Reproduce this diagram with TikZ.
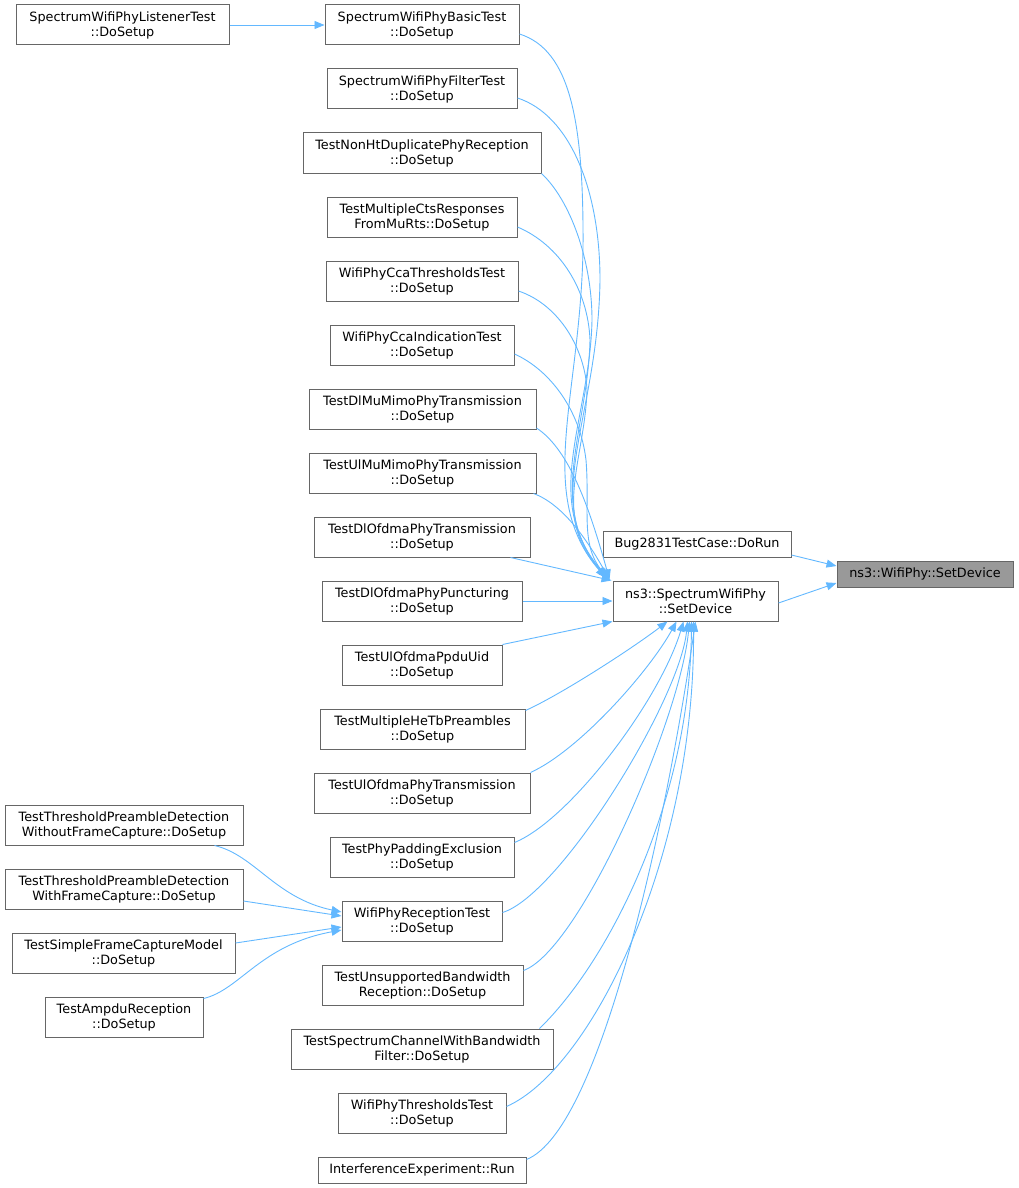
\documentclass[tikz,border=0pt]{standalone}
\usepackage{fontspec}
\setmainfont{DejaVu Sans}
\usetikzlibrary{arrows.meta}
\definecolor{edgeblue}{HTML}{63B8FF}
\definecolor{boxborder}{HTML}{666666}
\definecolor{mainfill}{HTML}{999999}
\begin{document}
\begin{tikzpicture}[x=1pt,y=-1pt,
  box/.style={draw=boxborder,line width=1pt,fill=white,inner sep=0pt,align=center,
    font=\fontsize{12.8}{15}\selectfont,minimum height=40pt},
  onebox/.style={box,minimum height=26pt},
  edge/.style={draw=edgeblue,line width=0.9pt,-{Triangle[length=10pt,width=8pt]}}]
\useasboundingbox (0,0) rectangle (1019,1188);
% nodes
\node[box,minimum width=213pt] (listener) at (122.5,25) {SpectrumWifiPhyListenerTest\\::DoSetup};
\node[box,minimum width=194pt] (basic) at (422,25) {SpectrumWifiPhyBasicTest\\::DoSetup};
\node[box,minimum width=190pt] (filter) at (422,89) {SpectrumWifiPhyFilterTest\\::DoSetup};
\node[box,minimum width=238pt] (nonht) at (422,153) {TestNonHtDuplicatePhyReception\\::DoSetup};
\node[box,minimum width=190pt] (multicts) at (422,217) {TestMultipleCtsResponses\\FromMuRts::DoSetup};
\node[box,minimum width=192pt] (ccathr) at (422,281) {WifiPhyCcaThresholdsTest\\::DoSetup};
\node[box,minimum width=184pt] (ccaind) at (422,345) {WifiPhyCcaIndicationTest\\::DoSetup};
\node[box,minimum width=227pt] (dlmumimo) at (422.5,409) {TestDlMuMimoPhyTransmission\\::DoSetup};
\node[box,minimum width=227pt] (ulmumimo) at (422.5,473) {TestUlMuMimoPhyTransmission\\::DoSetup};
\node[box,minimum width=216pt] (dlofdmatx) at (422,537) {TestDlOfdmaPhyTransmission\\::DoSetup};
\node[box,minimum width=200pt] (punct) at (422,601) {TestDlOfdmaPhyPuncturing\\::DoSetup};
\node[box,minimum width=160pt] (ppdu) at (422,665) {TestUlOfdmaPpduUid\\::DoSetup};
\node[box,minimum width=205pt] (hetb) at (422.5,729) {TestMultipleHeTbPreambles\\::DoSetup};
\node[box,minimum width=216pt] (ulofdmatx) at (422,793) {TestUlOfdmaPhyTransmission\\::DoSetup};
\node[box,minimum width=184pt] (padding) at (422,857) {TestPhyPaddingExclusion\\::DoSetup};
\node[box,minimum width=160pt] (reception) at (422,921) {WifiPhyReceptionTest\\::DoSetup};
\node[box,minimum width=201pt] (unsupported) at (422.5,985) {TestUnsupportedBandwidth\\Reception::DoSetup};
\node[box,minimum width=262pt] (specchan) at (422,1049) {TestSpectrumChannelWithBandwidth\\Filter::DoSetup};
\node[box,minimum width=168pt] (thresholds) at (422,1113) {WifiPhyThresholdsTest\\::DoSetup};
\node[onebox,minimum width=208pt] (interference) at (422,1170) {InterferenceExperiment::Run};
\node[onebox,minimum width=188pt] (bug) at (697,544) {Bug2831TestCase::DoRun};
\node[box,minimum width=165pt] (swp) at (695.5,601) {ns3::SpectrumWifiPhy\\::SetDevice};
\node[onebox,minimum width=176pt,fill=mainfill] (wifiphy) at (925,574) {ns3::WifiPhy::SetDevice};
\node[box,minimum width=238pt] (without) at (124,825) {TestThresholdPreambleDetection\\WithoutFrameCapture::DoSetup};
\node[box,minimum width=238pt] (with) at (124,889) {TestThresholdPreambleDetection\\WithFrameCapture::DoSetup};
\node[box,minimum width=223pt] (simple) at (123.5,953) {TestSimpleFrameCaptureModel\\::DoSetup};
\node[box,minimum width=158pt] (ampdu) at (124,1017) {TestAmpduReception\\::DoSetup};
% edges
\draw[edge] (listener.east) -- (basic.west);
\draw[edge] ([yshift=-11pt]bug.east) -- ([yshift=8pt]wifiphy.west);
\draw[edge] ([yshift=-2pt]swp.east) -- ([yshift=-9pt]wifiphy.west);
% upper group
\draw[edge] ([yshift=-9pt]basic.east) .. controls (570,50) and (584,120) .. (583,250)
  .. controls (580,400) and (535,495) .. ([xshift=-7pt,yshift=3pt]swp.north west);
\draw[edge] ([yshift=-9pt]filter.east) .. controls (570,115) and (600,190) .. (600,280)
  .. controls (598,420) and (540,500) .. ([xshift=-6pt,yshift=3pt]swp.north west);
\draw[edge] (nonht.south east) .. controls (570,200) and (592,260) .. (592,320)
  .. controls (590,420) and (540,500) .. ([xshift=-5pt,yshift=3pt]swp.north west);
\draw[edge] ([yshift=-10pt]multicts.east) .. controls (560,245) and (588,290) .. (590,340)
  .. controls (588,430) and (545,505) .. ([xshift=-5pt,yshift=2pt]swp.north west);
\draw[edge] ([yshift=-10pt]ccathr.east) .. controls (560,305) and (585,350) .. (587,390)
  .. controls (585,460) and (550,520) .. ([xshift=-4pt,yshift=2pt]swp.north west);
\draw[edge] ([yshift=-9pt]ccaind.east) .. controls (550,370) and (580,410) .. (586,460)
  .. controls (590,510) and (580,545) .. ([xshift=-4pt,yshift=2pt]swp.north west);
\draw[edge] ([yshift=-19pt]dlmumimo.east) .. controls (570,450) and (590,510) .. ([xshift=-3pt,yshift=1pt]swp.north west);
\draw[edge] ([xshift=-3pt]ulmumimo.south east) .. controls (565,505) and (590,545) .. ([xshift=-3pt,yshift=1pt]swp.north west);
\draw[edge] ([xshift=-20pt]dlofdmatx.south east) -- ([xshift=-1pt]swp.north west);
\draw[edge] (punct.east) -- (swp.west);
\draw[edge] (ppdu.north east) -- (swp.south west);
% lower group
\draw[edge] ([yshift=-2pt]hetb.north east) .. controls (560,695) and (630,650) .. ([xshift=-28pt]swp.south);
\draw[edge] (ulofdmatx.north east) .. controls (580,750) and (650,670) .. ([xshift=-19pt]swp.south);
\draw[edge] ([yshift=-6pt]padding.north east) .. controls (570,820) and (660,700) .. ([xshift=-12pt]swp.south);
\draw[edge] ([yshift=-12pt]reception.north east) .. controls (560,895) and (680,700) .. ([xshift=-8pt]swp.south);
\draw[edge] ([yshift=-6pt]unsupported.north east) .. controls (580,950) and (680,720) .. ([xshift=-6pt]swp.south);
\draw[edge] ([xshift=-14pt]specchan.north east) .. controls (610,960) and (690,800) .. ([xshift=-4pt]swp.south);
\draw[edge] ([yshift=-14pt]thresholds.north east) .. controls (590,1070) and (695,860) .. ([xshift=-2pt]swp.south);
\draw[edge] ([yshift=-3pt]interference.north east) .. controls (600,1130) and (665,830) .. (swp.south);
% left group
\draw[edge] ([xshift=-29pt]without.south east) .. controls (255,855) and (275,898) .. ([yshift=9pt]reception.west);
\draw[edge] ([yshift=-12pt]with.east) -- ([yshift=5pt]reception.west);
\draw[edge] ([yshift=10pt]simple.east) -- ([yshift=-6pt]reception.west);
\draw[edge] ([yshift=-2pt]ampdu.north east) .. controls (240,990) and (260,945) .. ([yshift=-9pt]reception.west);
\end{tikzpicture}
\end{document}
